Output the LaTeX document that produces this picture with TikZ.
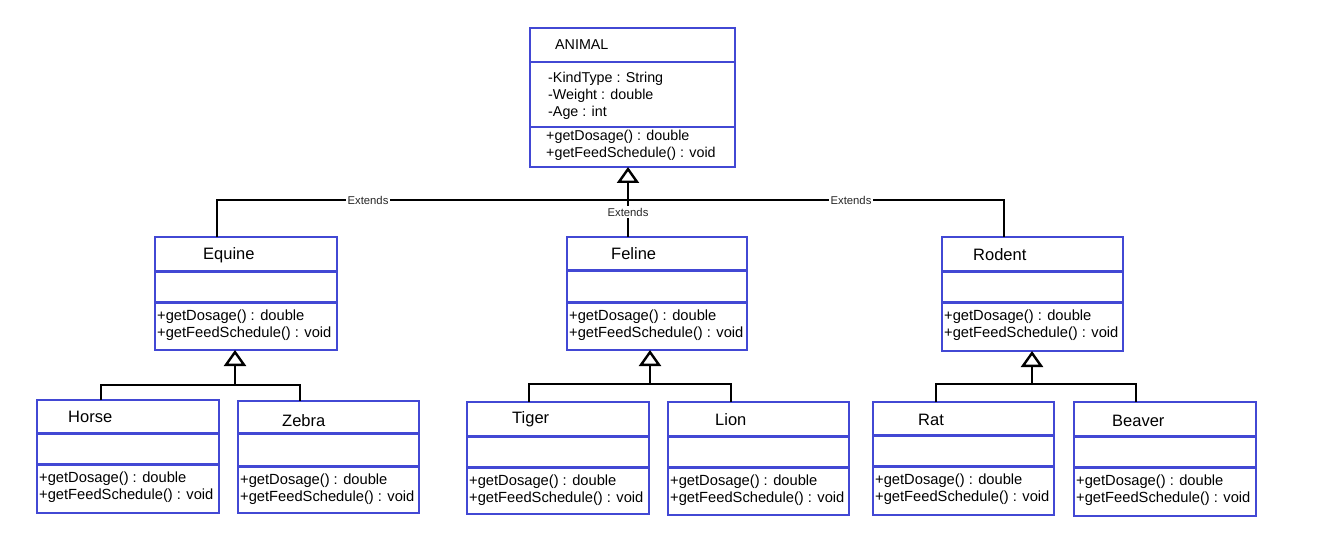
\documentclass[tikz,border=0pt]{standalone}
\usepackage{fontspec}
\setmainfont{Liberation Sans}
\usetikzlibrary{arrows.meta}
\definecolor{umlblue}{RGB}{66,72,212}

% One UML class: name, left, top, right, bottom, first rule, second rule, title, title baseline point
\newcommand\umlclass[9]{%
  \node[classbox, minimum width={#4-#2}, minimum height={#5-#3}, anchor=north west] (#1) at (#2,#3) {};
  \draw[sepline] (#2,#6) -- (#4,#6);
  \draw[sepline] (#2,#7) -- (#4,#7);
  \node[titletext] (#1-title) at #9 {#8};
  \node[methtext] (#1-m1) at (#2+2,#7+18) {+getDosage() : double};
  \node[methtext] (#1-m2) at (#2+2,#7+35) {+getFeedSchedule() : void};
}

\begin{document}
\begin{tikzpicture}[x=1pt, y=-1pt,
  classbox/.style={draw=umlblue, line width=2.8pt, fill=white, rectangle, inner sep=0pt, outer sep=0pt},
  sepline/.style={draw=umlblue, line width=3pt},
  titletext/.style={anchor=base west, inner sep=0pt, font=\fontsize{16.5}{19}\selectfont},
  methtext/.style={anchor=base west, inner sep=0pt, font=\fontsize{14.7}{18}\selectfont},
  smalltext/.style={anchor=base west, inner sep=0pt, font=\fontsize{14.3}{17}\selectfont},
  conn/.style={draw=black, line width=2.6pt},
  genarrow/.style={-{Triangle[open, length=16pt, width=22pt, fill=white, line width=2.4pt]}},
  extlabel/.style={fill=white, inner sep=2pt, text=black!85, font=\fontsize{11.3}{13}\selectfont}
]
\fill[white] (0,0) rectangle (1324,556);
\useasboundingbox (0,0) rectangle (1324,556);

% Base class
\node[classbox, line width=2pt, minimum width=205, minimum height=139, anchor=north west] (animal) at (530,28) {};
\draw[draw=umlblue, line width=2pt] (530,62) -- (735,62);
\draw[draw=umlblue, line width=2pt] (530,127) -- (735,127);
\node[smalltext] (animal-title) at (555,50) {ANIMAL};
\node[smalltext] (animal-a1) at (548,83) {-KindType : String};
\node[smalltext] (animal-a2) at (548,100) {-Weight : double};
\node[smalltext] (animal-a3) at (548,117) {-Age : int};
\node[smalltext] (animal-m1) at (546,141) {+getDosage() : double};
\node[smalltext] (animal-m2) at (546,158) {+getFeedSchedule() : void};

% Second level
\umlclass{equine}{155}{237}{337}{350}{271}{302}{Equine}{(203,259)}
\umlclass{feline}{567}{237}{747}{350}{270}{302}{Feline}{(611,259)}
\umlclass{rodent}{942}{237}{1123}{351}{271}{302}{Rodent}{(973,260)}

% Third level
\umlclass{horse}{37}{400}{219}{513}{433}{464}{Horse}{(68,422)}
\umlclass{zebra}{238}{401}{419}{513}{433}{466}{Zebra}{(282,426)}
\umlclass{tiger}{467}{402}{649}{514}{436}{467}{Tiger}{(512,423)}
\umlclass{lion}{668}{402}{849}{515}{436}{467}{Lion}{(715,425)}
\umlclass{rat}{873}{402}{1054}{515}{435}{466}{Rat}{(918,425)}
\umlclass{beaver}{1074}{402}{1256}{516}{436}{467}{Beaver}{(1112,426)}

% Junction points of the connectors
\coordinate (jTop) at (628,200);
\coordinate (jL) at (217,200);
\coordinate (jR) at (1004,200);
\coordinate (jEq) at (235,385);
\coordinate (jHorse) at (101,385);
\coordinate (jZebra) at (300,385);
\coordinate (jFe) at (650,384);
\coordinate (jTiger) at (529,384);
\coordinate (jLion) at (731,384);
\coordinate (jRo) at (1032,384);
\coordinate (jRat) at (936,384);
\coordinate (jBeaver) at (1136,384);

% Top level generalisation
\draw[conn] (equine.north -| jL) -- (jL) -- (jR) -- (rodent.north -| jR);
\draw[conn] (jTop) -- (feline.north -| jTop);
\draw[conn, genarrow] (jTop) -- (jTop |- animal.south);
\node[extlabel] (ext-left) at (368,200) {Extends};
\node[extlabel] (ext-right) at (851,200) {Extends};
\node[extlabel] (ext-mid) at (628,212) {Extends};

% Equine family
\draw[conn] (horse.north -| jHorse) -- (jHorse) -- (jZebra) -- (zebra.north -| jZebra);
\draw[conn, genarrow] (jEq) -- (jEq |- equine.south);

% Feline family
\draw[conn] (tiger.north -| jTiger) -- (jTiger) -- (jLion) -- (lion.north -| jLion);
\draw[conn, genarrow] (jFe) -- (jFe |- feline.south);

% Rodent family
\draw[conn] (rat.north -| jRat) -- (jRat) -- (jBeaver) -- (beaver.north -| jBeaver);
\draw[conn, genarrow] (jRo) -- (jRo |- rodent.south);
\end{tikzpicture}
\end{document}
